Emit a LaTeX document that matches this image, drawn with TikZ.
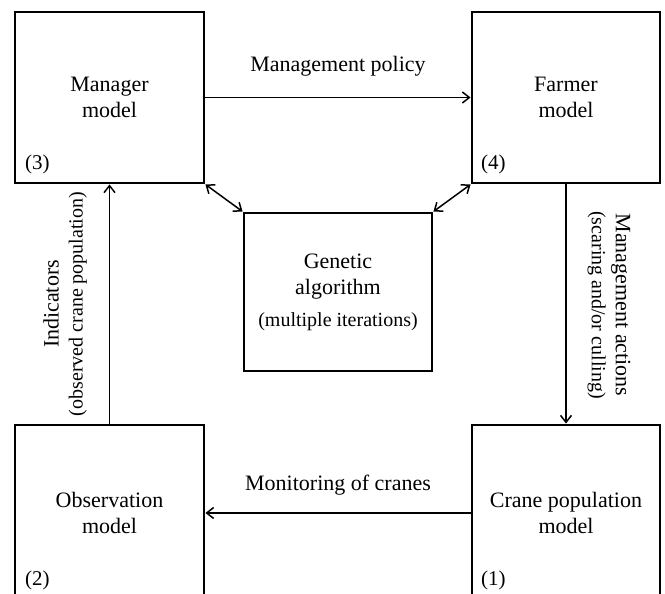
\documentclass[tikz,border=0pt]{standalone}
\usepackage{fontspec}
\setmainfont{Liberation Serif}
\usetikzlibrary{arrows.meta}
\begin{document}
\begin{tikzpicture}[x=1pt,y=-1pt,
 box/.style={draw, line width=2.9pt, inner sep=0pt, align=center, font=\fontsize{22}{26}\selectfont},
 lbl/.style={font=\fontsize{22}{26}\selectfont, inner sep=0pt},
 num/.style={font=\fontsize{21}{24}\selectfont, anchor=base west, inner sep=0pt},
 tip/.tip={Straight Barb[length=7pt,width=11pt]},
 arr/.style={line width=1.5pt, -tip},
 darr/.style={line width=1.5pt, tip-tip}]
\useasboundingbox (0,0) rectangle (665,594);
\clip (0,0) rectangle (665,594);
\node[box, minimum width=189pt, minimum height=171pt] (mgr) at (109.5,97.5) {Manager\\model};
\node[box, minimum width=188pt, minimum height=171pt] (farm) at (566,97.5) {Farmer\\model};
\node[box, minimum width=189pt, minimum height=176pt] (obs) at (109.5,513) {Observation\\model};
\node[box, minimum width=188pt, minimum height=176pt] (crane) at (566,513) {Crane population\\model};
\node[box, minimum width=188pt, minimum height=158pt] (ga) at (338,292) {Genetic\\algorithm\\[6pt]{\fontsize{20}{24}\selectfont (multiple iterations)}};
\node[num] (n3) at (25,170) {(3)};
\node[num] (n4) at (481,170) {(4)};
\node[num] (n2) at (25,585) {(2)};
\node[num] (n1) at (481,585) {(1)};
\draw[arr] (mgr) -- (farm) node[lbl, midway, yshift=31pt] (lp) {Management policy};
\draw[arr] (crane) -- (obs) node[lbl, midway, yshift=28pt] (lm) {Monitoring of cranes};
\draw[darr] (mgr.south east) -- (ga.north west);
\draw[darr] (farm.south west) -- (ga.north east);
\draw[arr] (farm) -- (crane);
\draw[arr] (obs) -- (mgr);
\node[lbl, rotate=90, align=center] (li) at (65,304) {Indicators\\[-2pt]{\fontsize{20}{24}\selectfont (observed crane population)}};
\node[lbl, rotate=-90, align=center] (la) at (609,305) {Management actions\\[-2pt]{\fontsize{20}{24}\selectfont (scaring and/or culling)}};
\end{tikzpicture}
\end{document}
